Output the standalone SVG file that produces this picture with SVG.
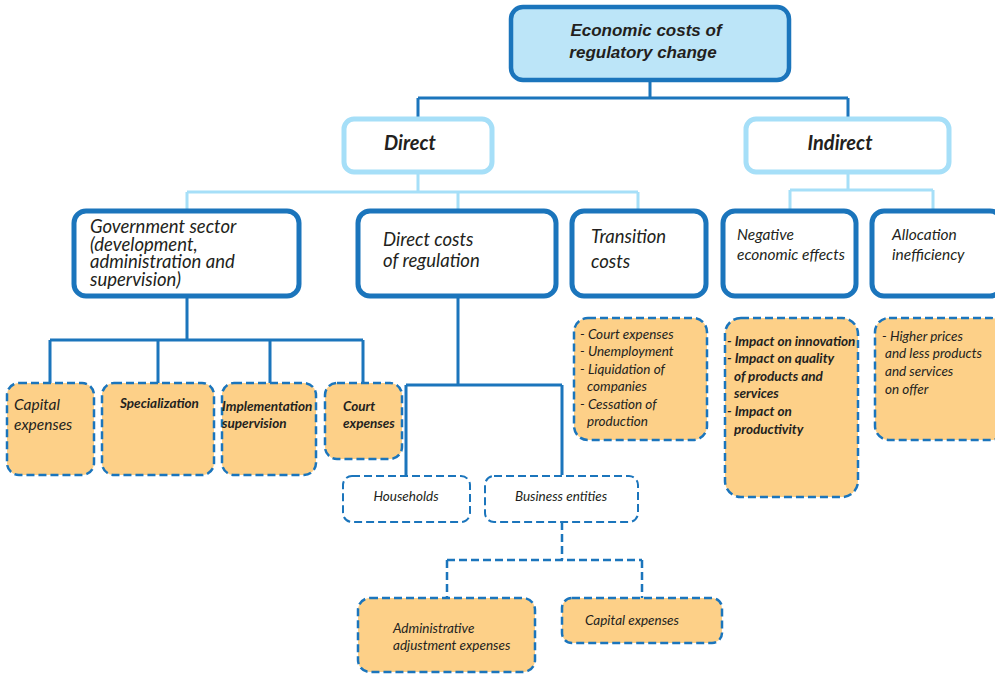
<svg xmlns="http://www.w3.org/2000/svg" width="995" height="674" viewBox="0 0 995 674">
  <defs>
    <style>
      .root { fill: #bce5f8; stroke: #1b75bc; stroke-width: 4.5; }
      .lvl1 { fill: #ffffff; stroke: #a6dff8; stroke-width: 5; }
      .lvl2 { fill: #ffffff; stroke: #1b75bc; stroke-width: 5; }
      .leaf { fill: #fdd088; stroke: #1b75bc; stroke-width: 2.5; stroke-dasharray: 8 4; }
      .sub { fill: #ffffff; stroke: #1b75bc; stroke-width: 2; stroke-dasharray: 8 4; }
      .dark { fill: none; stroke: #1b75bc; stroke-width: 3; }
      .light { fill: none; stroke: #a6dff8; stroke-width: 3; }
      .dash { fill: none; stroke: #1b75bc; stroke-width: 2.5; stroke-dasharray: 8 4; }
      text { fill: #231f20; font-family: Lato, "Open Sans", sans-serif; font-style: italic; }
      .t-root { font-family: "Liberation Sans", Arial, sans-serif; font-weight: bold; font-size: 17px; text-anchor: middle; }
      .t-lvl1 { font-weight: bold; font-size: 20px; text-anchor: middle; }
      .t-lvl2 { font-size: 18.5px; }
      .t-gov { font-size: 18.5px; }
      .t-sm { font-size: 15.5px; }
      .t-leaf { font-size: 13.5px; }
      .b { font-weight: bold; }
    </style>
  </defs>

  <!-- connectors -->
  <g id="connectors">
    <path class="dark" d="M650 80 V98 M418 98 H848 M418 98 V118 M848 98 V118"/>
    <path class="light" d="M418 173 V192 M187 192 H638 M187 192 V210 M458 192 V210 M638 192 V210"/>
    <path class="light" d="M848 173 V190 M790 190 H933 M790 190 V210 M933 190 V210"/>
    <path class="dark" d="M187 297 V340 M50 340 H363 M50 340 V383 M158 340 V383 M270 340 V383 M363 340 V383"/>
    <path class="dark" d="M458 297 V385 M406 385 H562 M406 385 V475 M562 385 V475"/>
    <path class="dash" d="M562 522 V560 M447 560 H642 M447 560 V598 M642 560 V598"/>
  </g>

  <!-- top -->
  <g id="economic-costs">
    <rect class="root" x="511" y="7" width="278" height="73" rx="12"/>
    <text class="t-root" x="646" y="36">Economic costs of</text>
    <text class="t-root" x="643" y="58">regulatory change</text>
  </g>

  <g id="direct">
    <rect class="lvl1" x="344" y="119" width="148" height="53" rx="10"/>
    <text class="t-lvl1" x="410" y="150">Direct</text>
  </g>
  <g id="indirect">
    <rect class="lvl1" x="746" y="119" width="203" height="53" rx="10"/>
    <text class="t-lvl1" x="840" y="150">Indirect</text>
  </g>

  <!-- second level -->
  <g id="government-sector">
    <rect class="lvl2" x="74" y="211" width="225" height="85" rx="12"/>
    <text class="t-gov" x="90" y="233">Government sector</text>
    <text class="t-gov" x="90" y="250.5">(development,</text>
    <text class="t-gov" x="90" y="268">administration and</text>
    <text class="t-gov" x="90" y="285.5">supervision)</text>
  </g>
  <g id="direct-costs">
    <rect class="lvl2" x="358" y="211" width="198" height="85" rx="12"/>
    <text class="t-lvl2" x="383" y="246">Direct costs</text>
    <text class="t-lvl2" x="383" y="267">of regulation</text>
  </g>
  <g id="transition-costs">
    <rect class="lvl2" x="572" y="211" width="134" height="85" rx="12"/>
    <text class="t-lvl2" x="591" y="243">Transition</text>
    <text class="t-lvl2" x="591" y="268">costs</text>
  </g>
  <g id="negative-effects">
    <rect class="lvl2" x="723" y="211" width="133" height="85" rx="12"/>
    <text class="t-sm" x="737" y="240">Negative</text>
    <text class="t-sm" x="737" y="260">economic effects</text>
  </g>
  <g id="allocation-inefficiency">
    <rect class="lvl2" x="872" y="211" width="130" height="85" rx="12"/>
    <text class="t-sm" x="892" y="240">Allocation</text>
    <text class="t-sm" x="892" y="260">inefficiency</text>
  </g>

  <!-- government sector items -->
  <g id="gov-capital">
    <rect class="leaf" x="7" y="383" width="87" height="92" rx="12"/>
    <text class="t-sm" x="14" y="410">Capital</text>
    <text class="t-sm" x="14" y="430">expenses</text>
  </g>
  <g id="gov-specialization">
    <rect class="leaf" x="102" y="383" width="112" height="92" rx="12"/>
    <text class="t-leaf b" x="120" y="408">Specialization</text>
  </g>
  <g id="gov-implementation">
    <rect class="leaf" x="222" y="383" width="94" height="92" rx="12"/>
    <text class="t-leaf b" x="222" y="411">Implementation</text>
    <text class="t-leaf b" x="222" y="428">supervision</text>
  </g>
  <g id="gov-court">
    <rect class="leaf" x="325" y="383" width="77" height="76" rx="12"/>
    <text class="t-leaf b" x="343" y="411">Court</text>
    <text class="t-leaf b" x="343" y="428">expenses</text>
  </g>

  <!-- direct costs of regulation -->
  <g id="households">
    <rect class="sub" x="343" y="476" width="127" height="46" rx="9"/>
    <text class="t-leaf" x="406" y="501" text-anchor="middle">Households</text>
  </g>
  <g id="business-entities">
    <rect class="sub" x="485" y="476" width="153" height="46" rx="9"/>
    <text class="t-leaf" x="561" y="501" text-anchor="middle">Business entities</text>
  </g>
  <g id="admin-adjustment">
    <rect class="leaf" x="358" y="598" width="177" height="74" rx="12"/>
    <text class="t-leaf" x="393" y="633">Administrative</text>
    <text class="t-leaf" x="393" y="650">adjustment expenses</text>
  </g>
  <g id="business-capital">
    <rect class="leaf" x="562" y="598" width="160" height="45" rx="10"/>
    <text class="t-leaf" x="585" y="625">Capital expenses</text>
  </g>

  <!-- transition costs list -->
  <g id="transition-list">
    <rect class="leaf" x="574" y="318" width="133" height="122" rx="14"/>
    <text class="t-leaf" x="580" y="339">- Court expenses</text>
    <text class="t-leaf" x="580" y="356">- Unemployment</text>
    <text class="t-leaf" x="580" y="374">- Liquidation of</text>
    <text class="t-leaf" x="587" y="391">companies</text>
    <text class="t-leaf" x="580" y="409">- Cessation of</text>
    <text class="t-leaf" x="587" y="426">production</text>
  </g>

  <!-- negative economic effects list -->
  <g id="negative-list">
    <rect class="leaf" x="725" y="318" width="133" height="179" rx="16"/>
    <text class="t-leaf b" x="727" y="346">- Impact on innovation</text>
    <text class="t-leaf b" x="727" y="363">- Impact on quality</text>
    <text class="t-leaf b" x="734" y="381">of products and</text>
    <text class="t-leaf b" x="734" y="398">services</text>
    <text class="t-leaf b" x="727" y="416">- Impact  on</text>
    <text class="t-leaf b" x="734" y="434">productivity</text>
  </g>

  <!-- allocation inefficiency list -->
  <g id="allocation-list">
    <rect class="leaf" x="875" y="318" width="130" height="122" rx="14"/>
    <text class="t-leaf" x="882" y="341">- Higher prices</text>
    <text class="t-leaf" x="885" y="358">and less products</text>
    <text class="t-leaf" x="885" y="376">and services</text>
    <text class="t-leaf" x="885" y="394">on offer</text>
  </g>
</svg>
